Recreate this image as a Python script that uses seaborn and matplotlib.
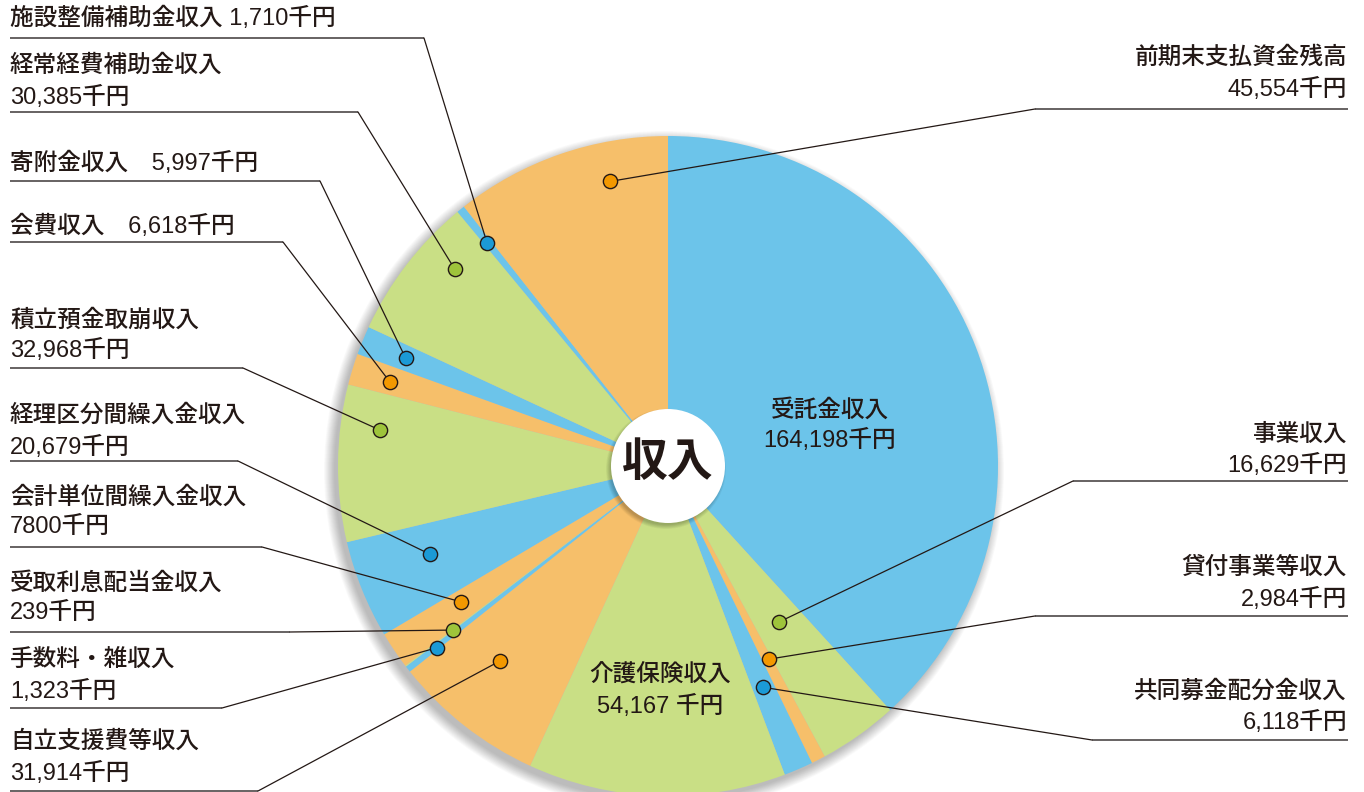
import matplotlib
matplotlib.use("Agg")
import matplotlib.pyplot as plt
from matplotlib.patches import Circle
import numpy as np
import seaborn as sns

# income breakdown (thousand yen), clockwise from 12 o'clock
names = ['受託金収入', '事業収入', '貸付事業等収入', '共同募金配分金収入', '介護保険収入',
         '自立支援費等収入', '手数料・雑収入', '受取利息配当金収入', '会計単位間繰入金収入',
         '経理区分間繰入金収入', '積立預金取崩収入', '会費収入', '寄附金収入',
         '経常経費補助金収入', '施設整備補助金収入', '前期末支払資金残高']
values = [164198, 16629, 2984, 6118, 54167, 31914, 1323, 239, 7800,
          20679, 32968, 6618, 5997, 30385, 1710, 45554]
value_text = ['164,198千円', '16,629千円', '2,984千円', '6,118千円', '54,167 千円',
              '31,914千円', '1,323千円', '239千円', '7800千円', '20,679千円',
              '32,968千円', '6,618千円', '5,997千円', '30,385千円', '1,710千円', '45,554千円']

BLUE, GREEN, ORANGE = '#6cc4ea', '#c9df85', '#f6bf6a'
DOT = {BLUE: '#1b9ad6', GREEN: '#9ec43b', ORANGE: '#f39800'}
colors = [BLUE, GREEN, ORANGE, BLUE, GREEN, ORANGE, BLUE, GREEN, ORANGE,
          BLUE, GREEN, ORANGE, BLUE, GREEN, BLUE, ORANGE]

W, H = 1364, 792
CX, CY, R = 668, H - 466, 330
INK = '#231815'

sns.set_theme(style="white")
plt.rcParams['font.family'] = ['Liberation Sans', 'Noto Sans CJK JP', 'DejaVu Sans']

fig = plt.figure(figsize=(W / 100, H / 100), dpi=100)
ax = fig.add_axes([0, 0, 1, 1])

# soft shadow behind the pie
for k in range(14):
    ax.add_patch(Circle((CX - 4, CY - 5), R + 10 - k * 0.8, color='#000000',
                        alpha=0.018, lw=0, zorder=0))

wedges, _ = ax.pie(values, colors=colors, startangle=90, counterclock=False,
                   center=(CX, CY), radius=R, wedgeprops=dict(linewidth=0))

# labels: (index, side, line1 y, line2 y, underline y, elbow x, clockwise pos in wedge, radius frac)
# single-line labels have line2 y = None
layout = [
    (14, 'L', 18, None, 38, 424, 0.4, 0.87),
    (13, 'L', 66, 97, 112, 358, 0.70, 0.88),
    (12, 'L', 163, None, 181, 320, 0.5, 0.86),
    (11, 'L', 226, None, 242, 283, 0.45, 0.88),
    (10, 'L', 320, 350, 368, 243, 0.74, 0.88),
    (9, 'L', 415, 447, 461, 238, 0.6, 0.77),
    (8, 'L', 497, 527, 547, 262, 0.6, 0.75),
    (7, 'L', 583, 613, 632, 290, 0.5, 0.82),
    (6, 'L', 660, 691, 708, 222, 0.3, 0.89),
    (5, 'L', 742, 773, 791, 258, 0.6, 0.78),
    (15, 'R', 58, 89, 109, 1035, 0.70, 0.88),
    (1, 'R', 435, 465, 481, 1073, 0.5, 0.58),
    (2, 'R', 568, 599, 616, 1035, 0.35, 0.66),
    (3, 'R', 692, 722, 740, 1092, 0.5, 0.73),
]

fs = 17
fw = 'medium'
for i, side, y1, y2, yu, ex, t, rf in layout:
    w = wedges[i]
    ang = np.deg2rad(w.theta2 - t * (w.theta2 - w.theta1))
    px, py = CX + rf * R * np.cos(ang), CY + rf * R * np.sin(ang)
    if side == 'L':
        x0, x1, xt, ha = 10, ex, 10, 'left'
    else:
        x0, x1, xt, ha = ex, 1348, 1347, 'right'
    if y2 is None:
        sep = '　' if i in (11, 12) else ' '
        ax.text(xt, H - y1, names[i] + sep + value_text[i], ha=ha, va='center',
                fontsize=fs, fontweight=fw, color=INK)
    else:
        ax.text(xt, H - y1, names[i], ha=ha, va='center', fontsize=fs,
                fontweight=fw, color=INK)
        ax.text(xt, H - y2, value_text[i], ha=ha, va='center', fontsize=fs,
                fontweight=fw, color=INK)
    ax.plot([x0, x1], [H - yu, H - yu], color='#5a5656', lw=1.3, solid_capstyle='butt', zorder=3)
    ax.plot([ex, px], [H - yu, py], color=INK, lw=0.9, zorder=3)
    ax.scatter([px], [py], s=105, color=DOT[colors[i]], edgecolor=INK,
               linewidth=1.0, zorder=4)

# labels inside the two largest wedges
for i, x, y1, y2 in [(0, 830, 410, 440), (4, 660, 675, 706)]:
    ax.text(x, H - y1, names[i], ha='center', va='center', fontsize=fs,
            fontweight=fw, color=INK)
    ax.text(x, H - y2, value_text[i], ha='center', va='center', fontsize=fs,
            fontweight=fw, color=INK)

# centre disc
for k in range(8):
    ax.add_patch(Circle((CX - 2, CY - 3), 60 - k * 0.6, color='#000000',
                        alpha=0.03, lw=0, zorder=5))
ax.add_patch(Circle((CX, CY), 57, color='white', lw=0, zorder=6))
ax.text(CX, CY + 2, '収入', ha='center', va='center', fontsize=33,
        fontweight='bold', color=INK, zorder=7)

ax.set_xlim(0, W)
ax.set_ylim(0, H)
ax.set_aspect('equal')
ax.axis('off')

fig.savefig('out.png', dpi=100, facecolor='white')
